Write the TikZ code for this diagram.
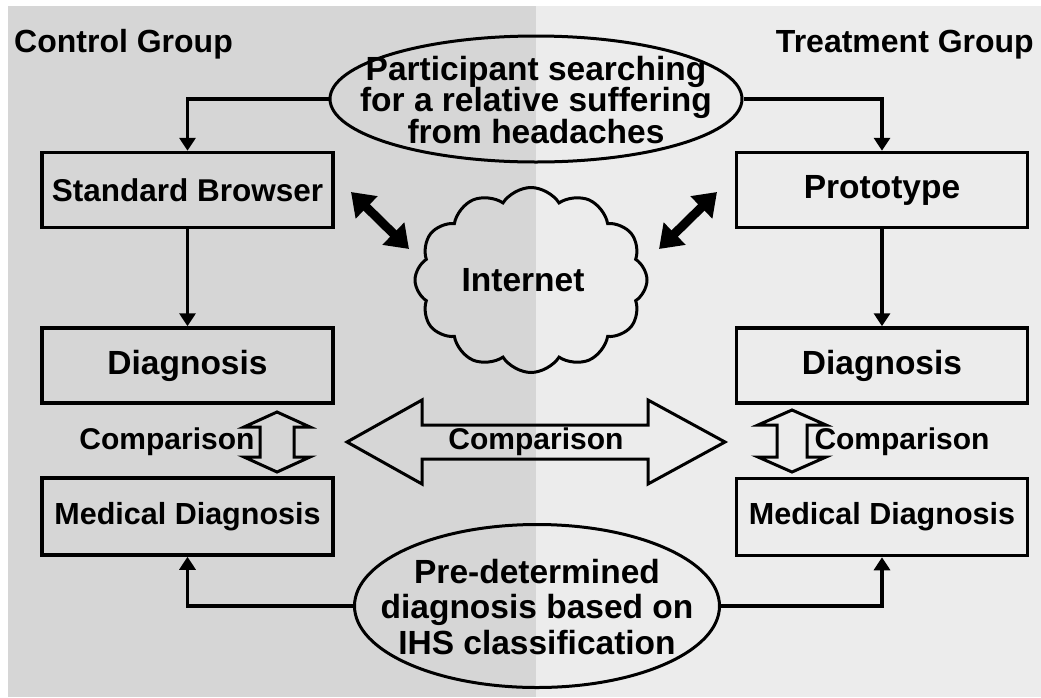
\documentclass[tikz,border=0pt]{standalone}
\usepackage{fontspec}
\setmainfont{Liberation Sans}
\usetikzlibrary{shapes,shapes.symbols,arrows.meta}
\definecolor{leftgray}{gray}{0.84}
\definecolor{rightgray}{gray}{0.925}

\begin{document}
\begin{tikzpicture}[x=1pt, y=-1pt, font=\bfseries\fontsize{32}{35}\selectfont]
		\tikzstyle{box}=[rectangle, draw=black, line width=3.5pt, minimum width=291, minimum height=75]
		\tikzstyle{oval}=[ellipse, draw=black, line width=3pt, inner sep=0pt]
		\tikzstyle{link}=[-{Triangle[width=16pt,length=13pt]}, line width=3.5pt, black]
		\tikzstyle{fat}=[{Triangle[width=30pt,length=22pt]}-{Triangle[width=30pt,length=22pt]}, line width=9pt, black]
		\tikzstyle{hollow}=[draw=black, line width=3pt, line join=miter]
		\tikzstyle{small}=[font=\bfseries\fontsize{30}{33}\selectfont]
		\tikzstyle{large}=[font=\bfseries\fontsize{33.5}{35}\selectfont]

		\useasboundingbox (0,0) rectangle (1041,697);
		% background halves
		\fill[leftgray] (8,6) rectangle (536,697);
		\fill[rightgray] (536,6) rectangle (1041,697);

		\node[anchor=base west, inner sep=0pt] (ctrl) at (14,52) {Control Group};
		\node[anchor=base east, inner sep=0pt] (treat) at (1034,52) {Treatment Group};

		\node[oval, minimum width=412, minimum height=126] (search) at (536,99) {};
		\node[large, align=center, font=\bfseries\fontsize{33.5}{31.5}\selectfont] at (536,100) {Participant searching\\for a relative suffering\\from headaches};

		\node[box] (browser) at (187.5,190) {};
		\node[small, font=\bfseries\fontsize{31.5}{34}\selectfont] at (browser) {Standard Browser};
		\node[box] (proto) at (882,190) {};
		\node[large] at (proto) {Prototype};

		\node[box] (diagL) at (187.5,365.5) {};
		\node[large] at (diagL) {Diagnosis};
		\node[box] (diagR) at (882,365.5) {};
		\node[large] at (diagR) {Diagnosis};

		\node[box, minimum height=77] (medL) at (187.5,516.5) {};
		\node[small, font=\bfseries\fontsize{30.5}{34}\selectfont] at (medL) {Medical Diagnosis};
		\node[box, minimum height=77] (medR) at (882,517) {};
		\node[small, font=\bfseries\fontsize{30.5}{34}\selectfont] at (medR) {Medical Diagnosis};

		\node[cloud, draw=black, line width=3pt, cloud puffs=12, cloud puff arc=115, aspect=1.25, minimum width=232, minimum height=185, inner sep=0pt] (net) at (531,280) {};
		\node[large] at (523,280) {Internet};

		\node[oval, minimum width=365, minimum height=163] (ihs) at (537,606) {};
		\node[large, align=center, font=\bfseries\fontsize{33.5}{35.5}\selectfont] at (537,607) {Pre-determined\\diagnosis based on\\IHS classification};

		%connectors
		\draw[link] (search.west) -| (browser.north);
		\draw[link] (search.east) -| (proto.north);
		\draw[link] (browser) -- (diagL);
		\draw[link] (proto) -- (diagR);
		\draw[link] (ihs.west) -| (medL.south);
		\draw[link] (ihs.east) -| (medR.south);

		%internet arrows
		\coordinate (fatL1) at (351,192);
		\coordinate (fatL2) at (409,249);
		\coordinate (fatR1) at (717,192);
		\coordinate (fatR2) at (659,249);
		\draw[fat] (fatL1) -- (fatL2);
		\draw[fat] (fatR1) -- (fatR2);

		%comparison arrows
		\draw[hollow] (347,442) -- (422,400) -- (422,425) -- (648,425) -- (648,400) -- (725,442) -- (648,484) -- (648,459) -- (422,459) -- (422,484) -- cycle;
		\node[small] (cmpmid) at (536,442) {Comparison};

		\begin{scope}[shift={(277,442)}]
			\draw[hollow] (0,-30) -- (33,-15) -- (17,-15) -- (17,15) -- (33,15) -- (0,30) -- (-33,15) -- (-17,15) -- (-17,-15) -- (-33,-15) -- cycle;
		\end{scope}
		\node[small] (cmpL) at (167,442) {Comparison};

		\begin{scope}[shift={(792,441)}]
			\draw[hollow] (0,-31) -- (34,-16) -- (15,-16) -- (15,16) -- (34,16) -- (0,31) -- (-34,16) -- (-15,16) -- (-15,-16) -- (-34,-16) -- cycle;
		\end{scope}
		\node[small] (cmpR) at (902,442) {Comparison};

	\end{tikzpicture}
\end{document}
